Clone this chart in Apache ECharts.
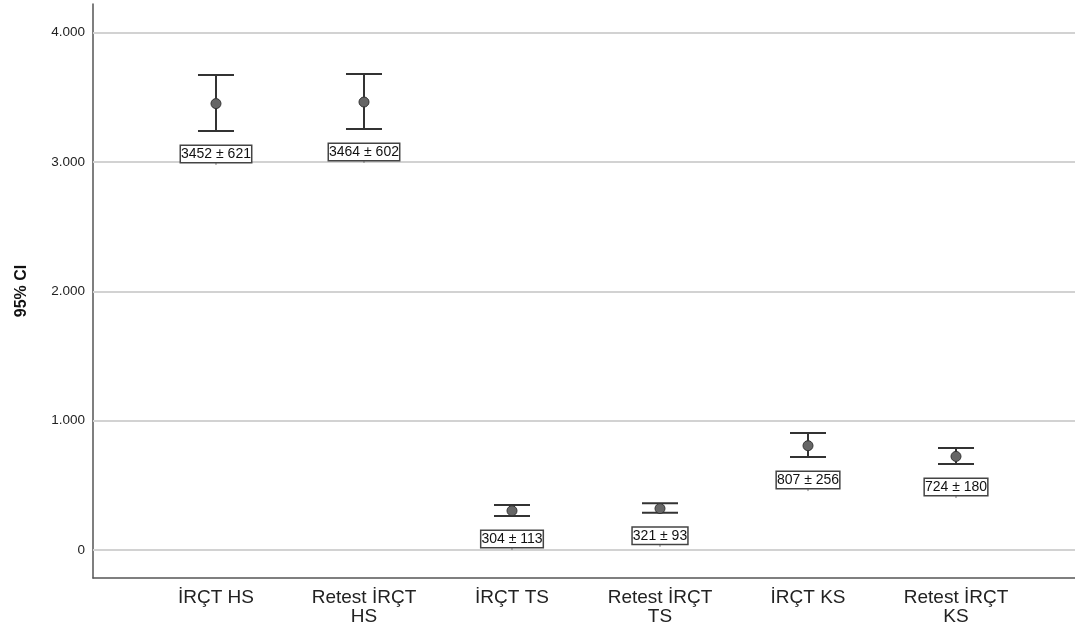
<!DOCTYPE html>
<html>
<head>
<meta charset="utf-8">
<script src="https://cdn.jsdelivr.net/npm/echarts@6/dist/echarts.min.js"></script>
<style>
  html, body { margin: 0; padding: 0; background: #fff; }
  #chart { width: 1075px; height: 634px; }
</style>
</head>
<body>
<div id="chart"></div>
<script>
// data
var categories = ['İRÇT HS', 'Retest İRÇT\nHS', 'İRÇT TS', 'Retest İRÇT\nTS', 'İRÇT KS', 'Retest İRÇT\nKS'];
var means = [3452, 3464, 304, 321, 807, 724];
var sds = [621, 602, 113, 93, 256, 180];
var ciLow = [3241, 3256, 263, 288, 719, 665];
var ciHigh = [3674, 3680, 348, 361, 905, 789];
var yTicks = [0, 1000, 2000, 3000, 4000];

var font = '"Liberation Sans", Arial, sans-serif';

function fmt(v) {
  return String(v).replace(/\B(?=(\d{3})+(?!\d))/g, '.');
}

var rows = categories.map(function (c, i) {
  return [i, ciLow[i], ciHigh[i], means[i], sds[i]];
});

var chart = echarts.init(document.getElementById('chart'));

chart.setOption({
  animation: false,
  grid: { left: 93, right: 0, top: 4, bottom: 56 },
  xAxis: {
    type: 'value',
    min: -0.831,
    max: 5.804,
    splitLine: { show: false },
    axisTick: { show: false },
    axisLine: { show: true, onZero: false, lineStyle: { color: '#555', width: 1.5 } },
    axisLabel: {
      customValues: categories.map(function (c, i) { return i; }),
      formatter: function (v) { return categories[Math.round(v)]; },
      margin: 10,
      fontFamily: font,
      fontSize: 19,
      lineHeight: 19,
      color: '#222'
    }
  },
  yAxis: {
    type: 'value',
    min: -216,
    max: 4222,
    name: '95% CI',
    nameLocation: 'middle',
    nameGap: 63,
    nameTextStyle: { fontFamily: font, fontSize: 16, fontWeight: 'bold', color: '#111' },
    splitLine: { show: false },
    axisTick: { show: false },
    axisLine: { show: true, onZero: false, lineStyle: { color: '#555', width: 1.5 } },
    axisLabel: {
      customValues: yTicks,
      formatter: fmt,
      margin: 8,
      fontFamily: font,
      fontSize: 13.5,
      color: '#222'
    }
  },
  series: [
    {
      // gridlines
      type: 'line',
      data: [],
      z: 1,
      markLine: {
        silent: true,
        symbol: 'none',
        label: { show: false },
        lineStyle: { color: '#d2d2d2', width: 2, type: 'solid' },
        data: yTicks.map(function (t) { return { yAxis: t }; })
      }
    },
    {
      type: 'custom',
      z: 5,
      data: rows,
      renderItem: function (params, api) {
        var i = api.value(0);
        var lo = api.coord([i, api.value(1)]);
        var hi = api.coord([i, api.value(2)]);
        var mid = api.coord([i, api.value(3)]);
        var cap = 18;
        var stroke = { stroke: '#333', lineWidth: 2 };
        var labelY = lo[1] + 23;
        return {
          type: 'group',
          children: [
            { type: 'line', shape: { x1: hi[0], y1: hi[1], x2: lo[0], y2: lo[1] }, style: stroke },
            { type: 'line', shape: { x1: hi[0] - cap, y1: hi[1], x2: hi[0] + cap, y2: hi[1] }, style: stroke },
            { type: 'line', shape: { x1: lo[0] - cap, y1: lo[1], x2: lo[0] + cap, y2: lo[1] }, style: stroke },
            { type: 'circle', shape: { cx: mid[0], cy: mid[1], r: 5 }, style: { fill: '#666', stroke: '#333', lineWidth: 1 } },
            { type: 'line', shape: { x1: lo[0], y1: labelY + 8, x2: lo[0], y2: labelY + 11 }, style: { stroke: '#777', lineWidth: 1 } },
            {
              type: 'text',
              style: {
                text: api.value(3) + ' ± ' + api.value(4),
                x: lo[0],
                y: labelY,
                align: 'center',
                verticalAlign: 'middle',
                font: '14px ' + font,
                lineHeight: 15,
                fill: '#111',
                backgroundColor: '#fff',
                borderColor: '#444',
                borderWidth: 1.5,
                padding: [1, 0, 0, 0]
              }
            }
          ]
        };
      }
    }
  ]
});
</script>
</body>
</html>
